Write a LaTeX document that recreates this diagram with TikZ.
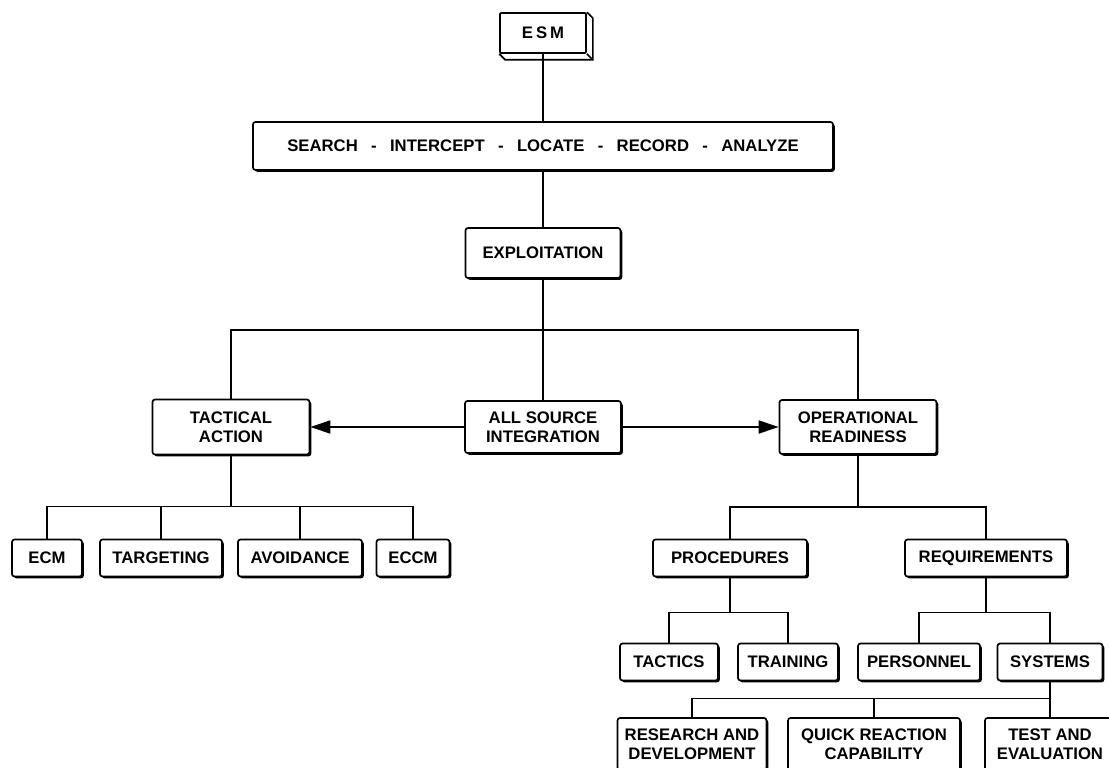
\documentclass[tikz,border=0pt]{standalone}
\usepackage{fontspec}
\setmainfont{Liberation Sans}
\usetikzlibrary{shadows,arrows.meta,calc}

\begin{document}
\begin{tikzpicture}
  [ x=1pt, y=-1pt, line width=1.7pt
  , font=\bfseries\fontsize{16.7}{18.5}\selectfont
  , cube/.style={draw, fill=white, rounded corners=1pt, inner sep=0pt}
  , box/.style={draw, fill=white, rounded corners=2.5pt, align=center,
                inner sep=0pt, minimum height=37pt,
                drop shadow={shadow xshift=1.8pt, shadow yshift=-1.8pt,
                             fill=black, opacity=1}}
  , tall/.style={box, minimum height=52pt}
  , gen1/.style={box,  node distance=131pt}
  , gen2/.style={box,  node distance=104pt}
  , gen3/.style={tall, node distance=82pt}
  , feed/.style={-{Triangle[length=20pt,width=13pt]}}
  ]

  \useasboundingbox (0,0) rectangle (1109,768);

  \node[cube, minimum width=86pt, minimum height=40pt] (esm) at (543,33) {E\kern3pt S\kern3pt M};
  \draw (esm.north east) -- ++(6,6) -- ($(esm.south east)+(6,6)$)
        -- ($(esm.south west)+(6,6)$) -- (esm.south west);
  \draw (esm.south east) -- ++(6,6);

  \node[box, below of=esm, node distance=113pt, minimum width=580pt, minimum height=48pt] (search)
    {SEARCH\hspace{0.8em}-\hspace{0.8em}INTERCEPT\hspace{0.8em}-\hspace{0.8em}LOCATE\hspace{0.8em}-\hspace{0.8em}RECORD\hspace{0.8em}-\hspace{0.8em}ANALYZE};
  \node[box, below of=search,  node distance=107pt, minimum width=155pt, minimum height=50pt] (exploit) {EXPLOITATION};
  \node[box, below of=exploit, node distance=174pt, minimum width=156pt, minimum height=52pt] (allsrc)  {ALL SOURCE\\INTEGRATION};
  \node[box, left of=allsrc,   node distance=312pt, minimum width=157pt, minimum height=55pt] (tact)    {TACTICAL\\ACTION};
  \node[box, right of=allsrc,  node distance=315pt, minimum width=157pt, minimum height=54pt] (opready) {OPERATIONAL\\READINESS};

  \node[gen1, below of=tact, xshift=-184pt, minimum width=70pt]  (ecm)   {ECM};
  \node[gen1, below of=tact, xshift=-70pt,  minimum width=122pt] (targ)  {TARGETING};
  \node[gen1, below of=tact, xshift=69pt,   minimum width=124pt] (avoid) {AVOIDANCE};
  \node[gen1, below of=tact, xshift=182pt,  minimum width=73pt]  (eccm)  {ECCM};

  \node[gen1, below of=opready, xshift=-128pt, minimum width=154pt] (procs) {PROCEDURES};
  \node[gen1, below of=opready, xshift=128pt,  minimum width=162pt] (reqs)  {REQUIREMENTS};

  \node[gen2, below of=procs, xshift=-61pt, minimum width=98pt]  (tactics) {TACTICS};
  \node[gen2, below of=procs, xshift=58pt,  minimum width=100pt] (train)   {TRAINING};
  \node[gen2, below of=reqs,  xshift=-67pt, minimum width=122pt] (pers)    {PERSONNEL};
  \node[gen2, below of=reqs,  xshift=64pt,  minimum width=105pt] (sys)     {SYSTEMS};

  \node[gen3, below of=sys, xshift=-358pt, minimum width=149pt] (rnd)   {RESEARCH AND\\DEVELOPMENT};
  \node[gen3, below of=sys, xshift=-176pt, minimum width=172pt] (quick) {QUICK REACTION\\CAPABILITY};
  \node[gen3, below of=sys,                minimum width=130pt] (test)  {TEST AND\\EVALUATION};

  % top chain
  \draw (esm.south) -- (search.north);
  \draw (search.south) -- (exploit.north);

  \draw (exploit.south) -- ++(0,51) coordinate (xbus);
  \draw (tact.north) |- (xbus) -| (opready.north);
  \draw (xbus) -- (allsrc.north);

  \draw[feed] (allsrc.west) -- (allsrc.west -| tact.east);
  \draw[feed] (allsrc.east) -- (allsrc.east -| opready.west);

  % tactical action
  \draw (tact.south) -- ++(0,51) coordinate (tbus);
  \draw (ecm.north) |- (tbus) -| (eccm.north);
  \draw (targ.north)  -- (targ.north |- tbus);
  \draw (avoid.north) -- (avoid.north |- tbus);

  % operational readiness
  \draw (opready.south) -- ++(0,52) coordinate (obus);
  \draw (procs.north) |- (obus) -| (reqs.north);

  \draw (procs.south) -- ++(0,35) coordinate (pbus);
  \draw (tactics.north) |- (pbus) -| (train.north);

  \draw (reqs.south) -- ++(0,35) coordinate (rbus);
  \draw (pers.north) |- (rbus) -| (sys.north);

  \draw (sys.south) -- ++(0,17) coordinate (sbus);
  \draw (rnd.north) |- (sbus) -- (test.north);
  \draw (quick.north) -- (quick.north |- sbus);

\end{tikzpicture}
\end{document}
